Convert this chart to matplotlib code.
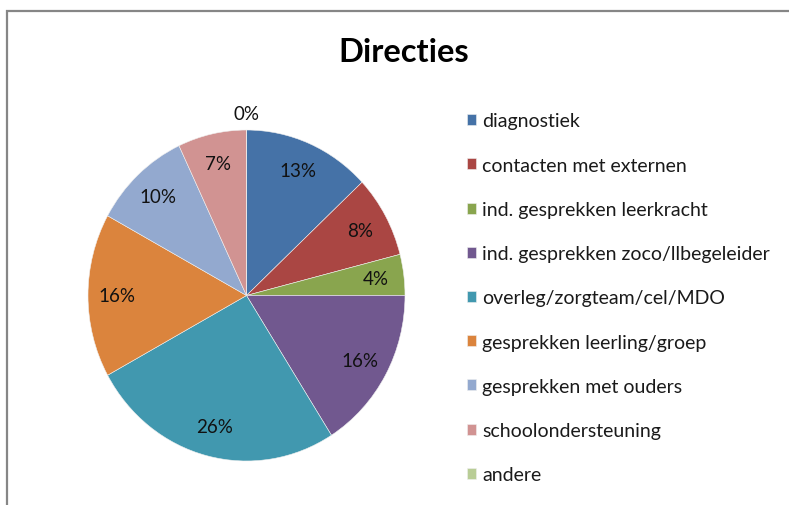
import matplotlib.pyplot as plt
from matplotlib.patches import Rectangle
import numpy as np

labels = ['diagnostiek', 'contacten met externen', 'ind. gesprekken leerkracht',
          'ind. gesprekken zoco/llbegeleider', 'overleg/zorgteam/cel/MDO',
          'gesprekken leerling/groep', 'gesprekken met ouders',
          'schoolondersteuning', 'andere']
values = [13, 8, 4, 16, 26, 16, 10, 7, 0]
colors = ['#4572A7', '#AA4643', '#89A54E', '#71588F', '#4198AF',
          '#DB843D', '#93A9CF', '#D19392', '#B9CD96']

plt.rcParams['font.family'] = ['Lato', 'DejaVu Sans']

W, H = 789, 506
fig = plt.figure(figsize=(W / 100, H / 100), dpi=100)

# grey chart border (runs off the right and bottom edge)
fig.patches.append(Rectangle((7 / W, -0.1), 1.2, 1 - 12 / H + 0.1,
                             transform=fig.transFigure, fill=False,
                             edgecolor='#868686', linewidth=1.6))

fig.text(404 / W, 1 - 53 / H, 'Directies', ha='center', va='center',
         fontsize=23.5, fontweight='bold', color='black')

ax = fig.add_axes([88 / W, 1 - 462 / H, (405 - 88) / W, (462 - 131) / H])
wedges, texts, autotexts = ax.pie(values, colors=colors, startangle=90,
                                  counterclock=False, autopct='%1.0f%%',
                                  pctdistance=0.82,
                                  wedgeprops=dict(edgecolor='#f0f0f0', linewidth=0.4),
                                  textprops=dict(fontsize=13.5, color='#111111'))
ax.set_aspect('auto')
ax.set_xlim(-1, 1)
ax.set_ylim(-1, 1)

# zero slice label sits just outside the pie
w = wedges[-1]
ang = np.deg2rad((w.theta1 + w.theta2) / 2)
autotexts[-1].set_position((1.1 * np.cos(ang), 1.1 * np.sin(ang)))

fig.legend(wedges, labels, loc='upper left', bbox_to_anchor=(449 / W, 1 - 96 / H),
           frameon=False, fontsize=14, handlelength=0.5, handleheight=0.5,
           handletextpad=0.3, labelspacing=1.40, labelcolor='#1a1a1a')

fig.savefig('out.png', dpi=100)
